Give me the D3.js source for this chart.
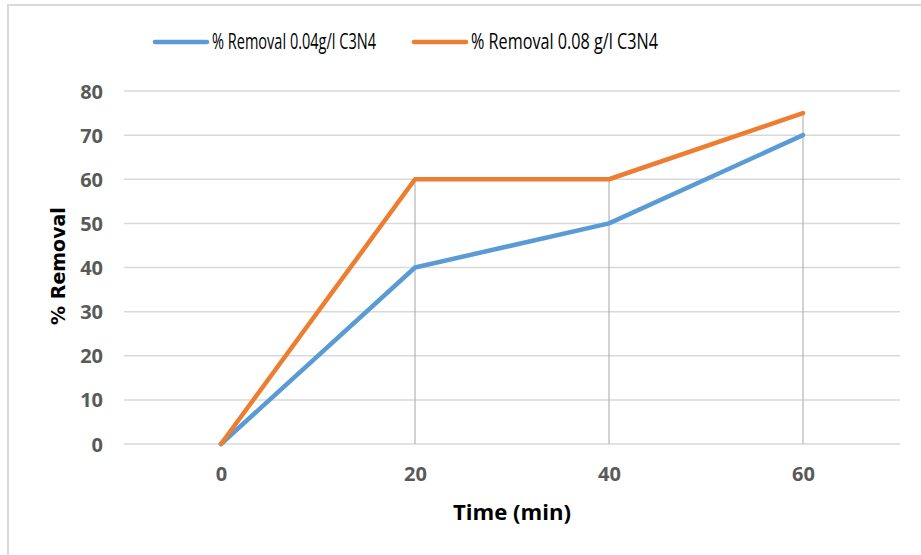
<!DOCTYPE html>
<html>
<head>
<meta charset="utf-8">
<script src="https://cdn.jsdelivr.net/npm/d3@7"></script>
<style>
  body { margin: 0; background: #fff; }
  svg { display: block; }
</style>
</head>
<body>
<svg id="chart" width="921" height="555"></svg>
<script>
// chart data
var times = ["0", "20", "40", "60"];
var removal004 = [0, 40, 50, 70];
var removal008 = [0, 60, 60, 75];
var seriesNames = ["% Removal 0.04g/l C3N4", "% Removal 0.08 g/l C3N4"];
var yTicks = [0, 10, 20, 30, 40, 50, 60, 70, 80];

var colors = ["#5b9bd5", "#ed7d31"];
var pad_left = 124, pad_right = 900, pad_top = 91, pad_bot = 444;

var svg = d3.select("#chart");

// outer frame
svg.append("rect")
    .attr("x", 8).attr("y", 5)
    .attr("width", 940).attr("height", 600)
    .attr("fill", "none")
    .attr("stroke", "#d9d9d9")
    .attr("stroke-width", 2);

var x = d3.scalePoint().domain(times).range([pad_left, pad_right]).padding(0.5);
var y = d3.scaleLinear().domain([0, 80]).range([pad_bot, pad_top]);

// gridlines
svg.append("g").selectAll("line")
    .data(yTicks)
    .enter().append("line")
    .attr("x1", pad_left).attr("x2", pad_right)
    .attr("y1", function (d) { return y(d); })
    .attr("y2", function (d) { return y(d); })
    .attr("stroke", "#d9d9d9")
    .attr("stroke-width", 1.5);

// y axis
var yAxis = d3.axisLeft(y).tickValues(yTicks).tickSize(0).tickPadding(0);
var gy = svg.append("g")
    .attr("transform", "translate(103,0)")
    .call(yAxis);
gy.select(".domain").remove();
gy.selectAll("text")
    .attr("fill", "#595959")
    .attr("font-family", "'Open Sans', sans-serif")
    .attr("font-weight", "bold")
    .attr("font-size", 20)
    .attr("dy", "0.35em");

// x axis
var xAxis = d3.axisBottom(x).tickSize(0).tickPadding(0);
var gx = svg.append("g")
    .attr("transform", "translate(0," + 474 + ")")
    .call(xAxis);
gx.select(".domain").remove();
gx.selectAll("text")
    .attr("fill", "#595959")
    .attr("font-family", "'Open Sans', sans-serif")
    .attr("font-weight", "bold")
    .attr("font-size", 20)
    .attr("dy", "0.35em");

// drop lines
svg.append("g").selectAll("line")
    .data(times)
    .enter().append("line")
    .attr("x1", function (d) { return x(d); })
    .attr("x2", function (d) { return x(d); })
    .attr("y1", function (d, i) { return y(Math.max(removal004[i], removal008[i])); })
    .attr("y2", y(0))
    .attr("stroke", "#a6a6a6")
    .attr("stroke-width", 1);

// series lines
var line = d3.line()
    .x(function (d, i) { return x(times[i]); })
    .y(function (d) { return y(d); });

[removal004, removal008].forEach(function (s, k) {
    svg.append("path")
        .datum(s)
        .attr("d", line)
        .attr("fill", "none")
        .attr("stroke", colors[k])
        .attr("stroke-width", 4.5)
        .attr("stroke-linejoin", "round")
        .attr("stroke-linecap", "round");
});

// axis titles
svg.append("text")
    .text("Time (min)")
    .attr("x", 512).attr("y", 513)
    .attr("text-anchor", "middle")
    .attr("dy", "0.35em")
    .attr("font-family", "'Open Sans', sans-serif")
    .attr("font-weight", "bold")
    .attr("font-size", 21)
    .attr("textLength", 118)
    .attr("lengthAdjust", "spacingAndGlyphs")
    .attr("fill", "#000");

svg.append("text")
    .text("% Removal")
    .attr("transform", "translate(58,266) rotate(-90)")
    .attr("text-anchor", "middle")
    .attr("dy", "0.35em")
    .attr("font-family", "'DejaVu Sans', sans-serif")
    .attr("font-weight", "bold")
    .attr("font-size", 19)
    .attr("fill", "#000");

// legend
var legendX = [153, 412];
var legend = svg.append("g").selectAll("g")
    .data(seriesNames)
    .enter().append("g")
    .attr("transform", function (d, i) { return "translate(" + legendX[i] + ",42)"; });
legend.append("line")
    .attr("x1", 2).attr("x2", 54)
    .attr("stroke", function (d, i) { return colors[i]; })
    .attr("stroke-width", 4.5)
    .attr("stroke-linecap", "round");
legend.append("text")
    .text(function (d) { return d; })
    .attr("x", 59)
    .attr("dy", "0.35em")
    .attr("font-family", "'Open Sans', sans-serif")
    .attr("font-size", 21)
    .attr("textLength", function (d, i) { return i == 0 ? 164 : 187; })
    .attr("lengthAdjust", "spacingAndGlyphs")
    .attr("fill", "#000");
</script>
</body>
</html>
